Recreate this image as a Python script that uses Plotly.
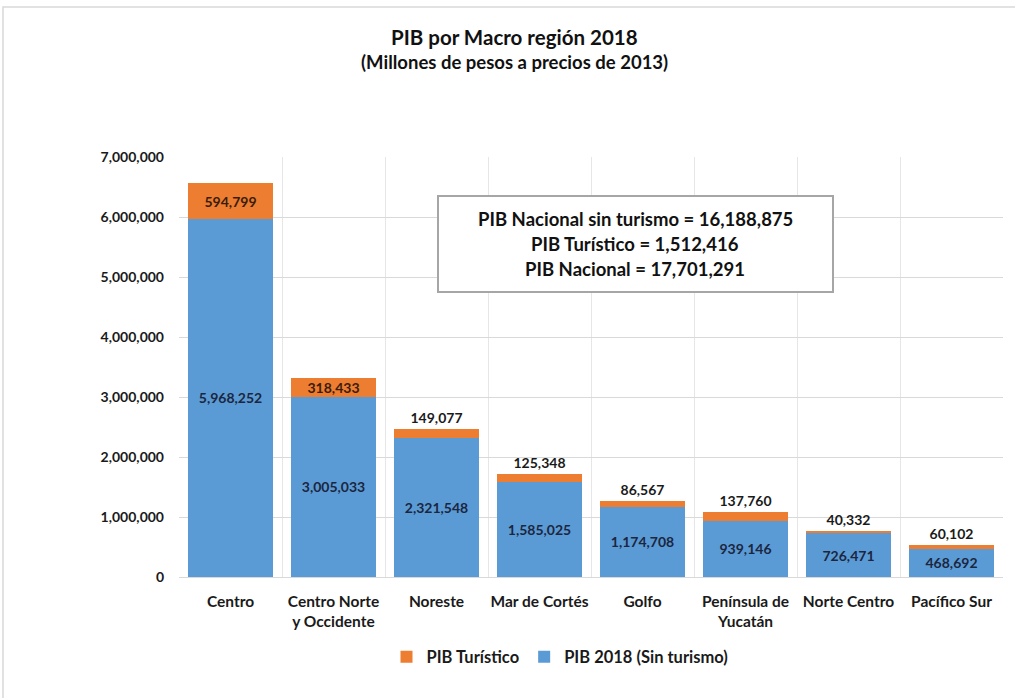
import plotly.graph_objects as go

categories = ["Centro", "Centro Norte<br>y Occidente", "Noreste", "Mar de Cortés", "Golfo",
              "Península de<br>Yucatán", "Norte Centro", "Pacífico Sur"]
pib_sin_turismo = [5968252, 3005033, 2321548, 1585025, 1174708, 939146, 726471, 468692]
pib_turistico = [594799, 318433, 149077, 125348, 86567, 137760, 40332, 60102]
turistico_textpos = ["inside", "inside", "outside", "outside", "outside", "outside", "outside", "outside"]
y_ticks = [0, 1000000, 2000000, 3000000, 4000000, 5000000, 6000000, 7000000]

FONT = "Lato"
BLUE = "#5B9BD5"
ORANGE = "#ED7D31"

fig = go.Figure()
fig.add_trace(go.Bar(
    x=categories, y=pib_sin_turismo, name="PIB 2018 (Sin turismo)",
    marker=dict(color=BLUE, line=dict(width=0)),
    texttemplate="%{y:,}", textposition="inside", insidetextanchor="middle",
    textfont=dict(family=FONT, size=14, color="#1b2640", weight="bold"),
    hoverinfo="skip",
))
fig.add_trace(go.Bar(
    x=categories, y=pib_turistico, name="PIB Turístico",
    marker=dict(color=ORANGE, line=dict(width=0)),
    texttemplate="%{y:,}", textposition=turistico_textpos, insidetextanchor="middle",
    insidetextfont=dict(family=FONT, size=14, color="#3a1c0c", weight="bold"),
    outsidetextfont=dict(family=FONT, size=14, color="#1a1a1a", weight="bold"),
    cliponaxis=False, hoverinfo="skip",
))

fig.update_layout(
    barmode="stack",
    bargap=0.175,
    width=1015, height=698,
    margin=dict(l=179, r=12, t=157, b=121, autoexpand=False),
    paper_bgcolor="white", plot_bgcolor="white",
    font=dict(family=FONT, color="#262626"),
    showlegend=True,
    legend=dict(orientation="h", x=(560 - 179) / 824, xanchor="center", y=(577 - 657) / 420,
                yanchor="middle", traceorder="reversed",
                font=dict(family=FONT, size=16.5, color="#1a1a1a", weight="bold"),
                itemwidth=30),
    uniformtext=dict(mode="show", minsize=14),
)
fig.update_xaxes(
    tickson="boundaries", showgrid=True, gridcolor="#e6e6e6", gridwidth=1,
    showline=True, linecolor="#d9d9d9", linewidth=1, ticks="",
    tickangle=0, automargin=False, ticklabelstandoff=10,
    tickfont=dict(family=FONT, size=15.5, color="#1a1a1a", weight="bold"),
    range=[-0.5, 7.5],
)
fig.update_yaxes(
    range=[0, 7000000], tickvals=y_ticks, tickformat=",",
    showgrid=True, gridcolor="#d9d9d9", gridwidth=1, zeroline=False,
    ticks="", ticklabelstandoff=14, automargin=False,
    tickfont=dict(family=FONT, size=14, color="#1a1a1a", weight="bold"),
)

# Titles
fig.add_annotation(text="PIB por Macro región 2018", xref="paper", yref="paper",
                   x=(514 - 179) / 824, y=(577 - 37) / 420, xanchor="center", yanchor="middle",
                   showarrow=False, font=dict(family=FONT, size=20.5, color="#111111", weight="bold"))
fig.add_annotation(text="(Millones de pesos a precios de 2013)", xref="paper", yref="paper",
                   x=(514 - 179) / 824, y=(577 - 62) / 420, xanchor="center", yanchor="middle",
                   showarrow=False, font=dict(family=FONT, size=18.5, color="#111111", weight="bold"))

# Summary box
fig.add_shape(type="rect", xref="paper", yref="paper",
              x0=(438 - 179) / 824, x1=(833 - 179) / 824,
              y0=(577 - 292) / 420, y1=(577 - 196) / 420,
              line=dict(color="#a6a6a6", width=2), fillcolor="white", layer="above")
box_lines = ["PIB Nacional sin turismo = 16,188,875", "PIB Turístico = 1,512,416", "PIB Nacional = 17,701,291"]
for i, line in enumerate(box_lines):
    fig.add_annotation(text=line, xref="paper", yref="paper",
                       x=(635 - 179) / 824, y=(577 - (219 + 25 * i)) / 420,
                       xanchor="center", yanchor="middle", showarrow=False,
                       font=dict(family=FONT, size=18.5, color="#111111", weight="bold"))

# Outer chart frame
fig.add_shape(type="rect", xref="paper", yref="paper",
              x0=(3 - 179) / 824, x1=(1020 - 179) / 824,
              y0=(577 - 705) / 420, y1=(577 - 7) / 420,
              line=dict(color="#d9d9d9", width=1.5), fillcolor="rgba(0,0,0,0)", layer="below")

fig.write_html("out.html", config={"displayModeBar": False},
               post_script="document.body.style.margin='0';document.body.style.overflow='hidden';")
